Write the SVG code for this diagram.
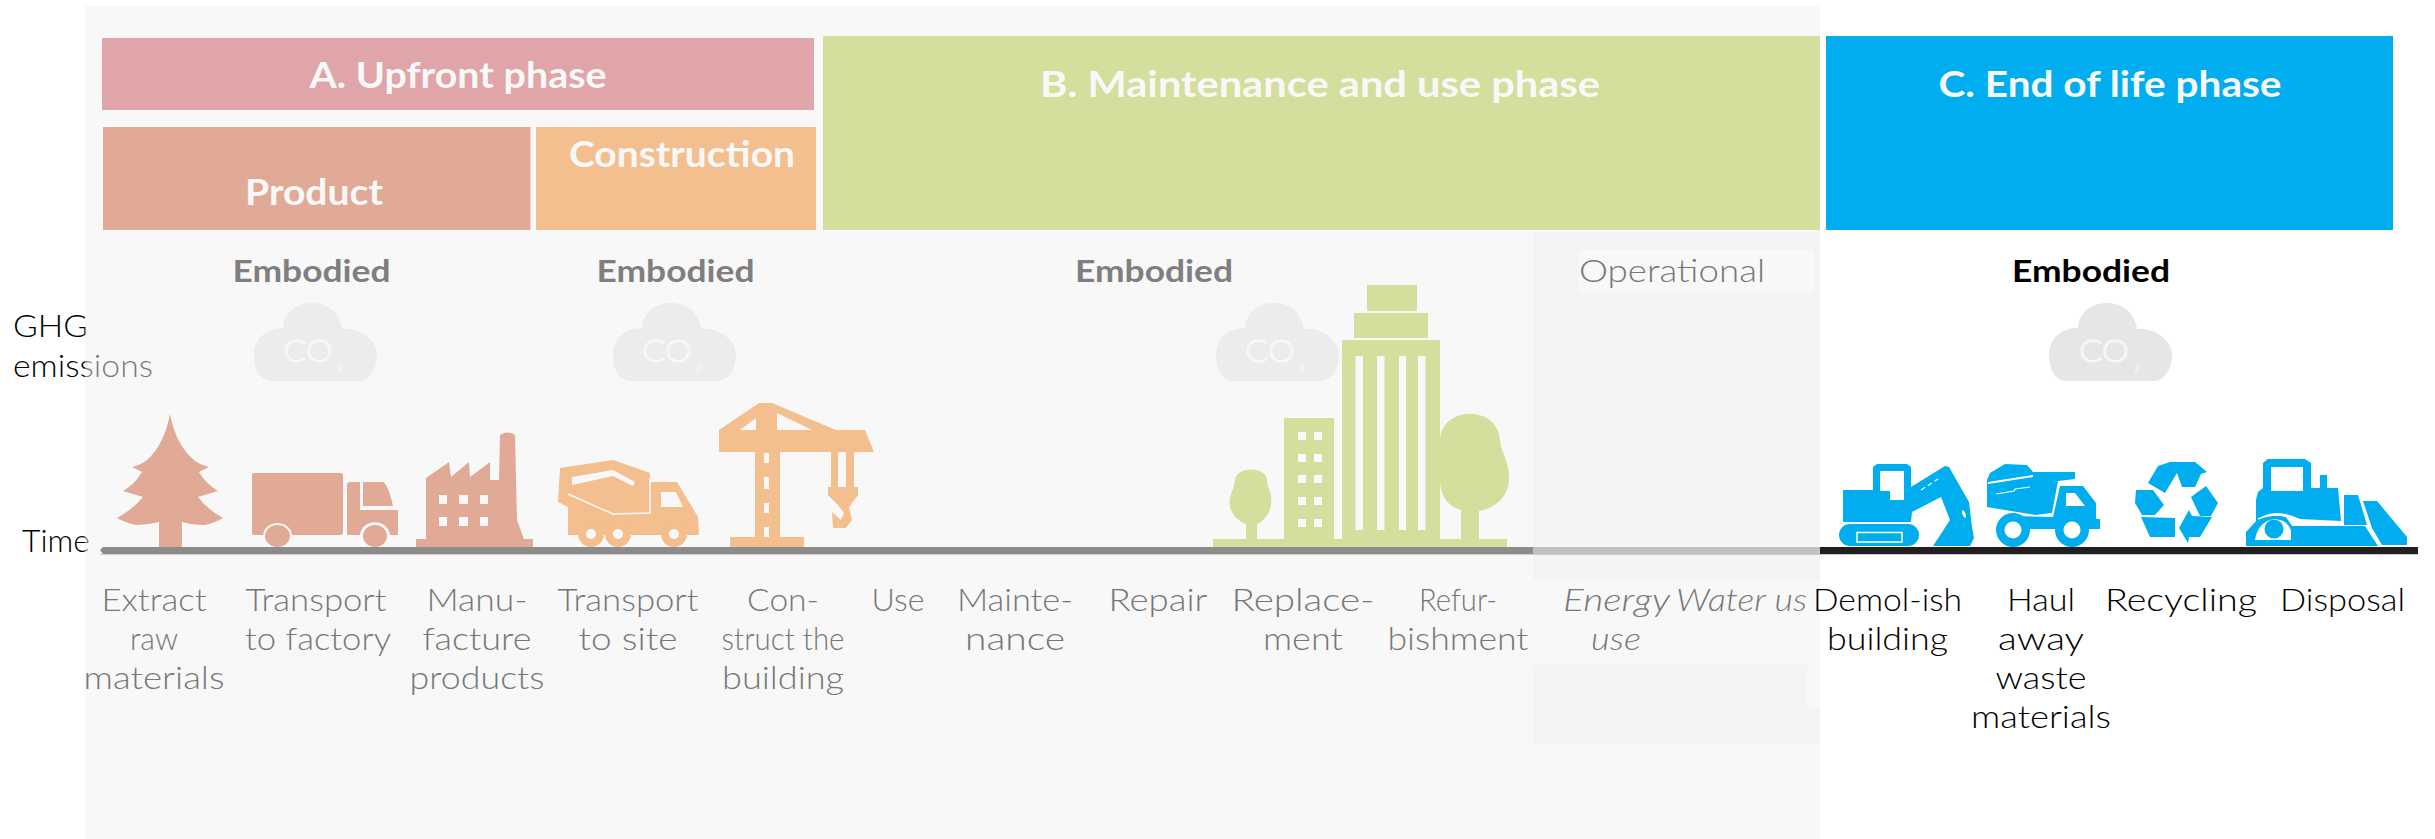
<svg xmlns="http://www.w3.org/2000/svg" width="2435" height="839" viewBox="0 0 2435 839">
<style>
text{font-family:Lato,"Open Sans","Liberation Sans",sans-serif}
.h{font-size:36px;font-weight:700;fill:#f8f8f8}
.e{font-size:31px;font-weight:700;fill:#7f7f7f}
.l{font-size:31px;font-weight:300;fill:#777}
.k{font-size:31px;font-weight:300;fill:#000}
.c{font-size:32px;font-weight:300;fill:none;stroke:#fafafa;stroke-width:1}
.s{font-size:9px;fill:#fafafa}
.p{fill:#e1aa96}.o{fill:#f3bf8e}.g{fill:#d3df9d}.b{fill:#00aeef}
.w{fill:#f8f8f8}.n{fill:#fff}
</style>
<defs>
<path id="cloud" d="M18 78C6 78 0 66 0 52C0 36 12 25 29 25C30 10 42 0 58 0C74 0 86 10 88 26C104 24 123 36 123 52C123 68 114 78 104 78Z"/>
</defs>
<g id="axis-labels">
<text class="k" x="13" y="337" textLength="75" lengthAdjust="spacingAndGlyphs">GHG</text>
<text class="k" x="13" y="377" textLength="140" lengthAdjust="spacingAndGlyphs">emissions</text>
<text class="k" x="22" y="552" textLength="68" lengthAdjust="spacingAndGlyphs">Time</text>
</g>
<rect id="panel" x="85" y="6" width="1735" height="833" fill="#f1f1f1" opacity=".5"/>
<rect x="1533" y="232" width="287" height="348" fill="#f4f4f4"/>
<rect x="1533" y="665" width="274" height="80" fill="#f4f4f4"/>
<rect x="1807" y="707" width="13" height="38" fill="#f4f4f4"/>
<rect x="1579" y="250" width="235" height="43" fill="#f8f8f8"/>

<g id="phase-a"><rect x="102" y="38" width="712" height="72" fill="#dfa5a9"/>
<text class="h" x="458" y="88" text-anchor="middle" textLength="297" lengthAdjust="spacingAndGlyphs">A. Upfront phase</text></g>
<g id="product"><rect x="103" y="127" width="427.500" height="103" class="p"/>
<text class="h" x="314" y="205" text-anchor="middle" textLength="138" lengthAdjust="spacingAndGlyphs">Product</text></g>
<g id="construction"><rect x="536" y="127" width="280" height="103" class="o"/>
<text class="h" x="682" y="167" text-anchor="middle" textLength="226" lengthAdjust="spacingAndGlyphs">Construction</text></g>
<g id="phase-b"><rect x="823" y="36" width="997" height="194" class="g"/>
<text class="h" x="1320" y="97" text-anchor="middle" textLength="560" lengthAdjust="spacingAndGlyphs">B. Maintenance and use phase</text></g>
<g id="phase-c"><rect x="1826" y="36" width="567" height="194" class="b"/>
<text class="h" x="2110" y="97" text-anchor="middle" textLength="343" lengthAdjust="spacingAndGlyphs">C. End of life phase</text></g>

<g id="embodied-1"><text class="e" x="311.500" y="282" text-anchor="middle" textLength="158" lengthAdjust="spacingAndGlyphs">Embodied</text></g>
<g id="embodied-2"><text class="e" x="675.500" y="282" text-anchor="middle" textLength="158" lengthAdjust="spacingAndGlyphs">Embodied</text></g>
<g id="embodied-3"><text class="e" x="1154" y="282" text-anchor="middle" textLength="158" lengthAdjust="spacingAndGlyphs">Embodied</text></g>
<g id="operational"><text class="l" x="1672" y="282" text-anchor="middle" textLength="186" lengthAdjust="spacingAndGlyphs" fill="#7f7f7f">Operational</text></g>
<g id="embodied-4"><text class="e" x="2091" y="282" text-anchor="middle" textLength="158" lengthAdjust="spacingAndGlyphs" style="fill:#000">Embodied</text></g>

<g id="cloud-1" fill="#ececec"><use href="#cloud" x="254" y="303"/><text class="c" x="283" y="362" textLength="50" lengthAdjust="spacingAndGlyphs">CO</text><text class="s" x="337" y="372">2</text></g>
<g id="cloud-2" fill="#ececec"><use href="#cloud" x="613" y="303"/><text class="c" x="642" y="362" textLength="50" lengthAdjust="spacingAndGlyphs">CO</text><text class="s" x="696" y="372">2</text></g>
<g id="cloud-3" fill="#ececec"><use href="#cloud" x="1216" y="303"/><text class="c" x="1245" y="362" textLength="50" lengthAdjust="spacingAndGlyphs">CO</text><text class="s" x="1299" y="372">2</text></g>
<g id="cloud-4" fill="#e6e6e6"><use href="#cloud" x="2049" y="303"/><text class="c" x="2079" y="362" textLength="50" lengthAdjust="spacingAndGlyphs">CO</text><text class="s" x="2134" y="372">2</text></g>

<g id="tree" class="p"><path d="M170 414Q176 445 194 460Q200 465 209 467L199 472Q206 484 218 491L198 497Q208 510 223 518Q212 524 204 525Q192 525 182 522V547H159V522Q148 525 137 525Q128 524 117 518Q132 510 143 497L123 491Q135 484 142 472L132 467Q141 465 147 460Q164 445 170 414Z"/></g>
<g id="truck" class="p">
<rect x="252" y="473" width="91" height="62" rx="2"/>
<path d="M347 485Q347 482 350 482H360V510H398V535H390C388 518 362 518 360 535H347Z"/>
<path d="M363 482H383Q388 484 393 506H363Z"/>
<ellipse cx="277.500" cy="536" rx="14.500" ry="13" class="w"/><ellipse cx="375" cy="536" rx="14.500" ry="13" class="w"/>
<ellipse cx="277.500" cy="536" rx="12.500" ry="11"/><ellipse cx="375" cy="536" rx="12" ry="11"/>
</g>
<g id="factory" class="p">
<path d="M416 547V539H426V478L449 462L451 477L469 462L470 477L490 462V480H499L500 435Q507 430 515 435L517 520L524 539H533V547Z"/>
<g class="w"><rect x="439" y="495" width="8" height="9"/><rect x="459" y="495" width="9" height="9"/><rect x="480" y="495" width="8" height="9"/><rect x="439" y="517" width="8" height="9"/><rect x="459" y="517" width="9" height="9"/><rect x="480" y="517" width="8" height="9"/></g>
</g>
<g id="mixer" class="o">
<path d="M560 468L613 460L650 473V482H677L698 517L699 535H568V507L558 502Z"/>
<path d="M572 477L613 470L635 482L633 486L613 476L572 485Z" class="w"/>
<path d="M568 494L613 514L650 513V478" fill="none" stroke="#f8f8f8" stroke-width="1.500"/>
<path d="M661 492H676L683 507H661Z" class="w"/>
<circle cx="591" cy="534" r="13"/><circle cx="618" cy="534" r="13"/><circle cx="674" cy="534" r="13"/>
<g class="w"><circle cx="591" cy="534" r="5"/><circle cx="618" cy="534" r="5"/><circle cx="674" cy="534" r="5"/></g>
</g>
<g id="crane" class="o">
<path fill-rule="evenodd" d="M719 452V430L759 403H772L836 430H865L874 452H780V537H804V547H730V537H755V452ZM740 430H756V418ZM777 413V430H812ZM764 453V463H769V453ZM764 477V489H769V477ZM764 503V513H769V503ZM764 527V537H769V527Z"/>
<path fill-rule="evenodd" d="M831 452H854V487H858V495L849 507L852 520L846 528H833L832 512L841 520L844 513L838 505L828 495V487H831ZM838 452V487H846V452Z"/>
</g>
<g id="city" class="g">
<rect x="1213" y="539" width="294" height="8"/>
<rect x="1367" y="285" width="50" height="26"/><rect x="1354" y="313" width="74" height="25"/>
<path fill-rule="evenodd" d="M1342 340H1440V540H1342ZM1355.500 356V530H1363V356ZM1377 356V530H1384.500V356ZM1399 356V530H1406V356ZM1418 356V530H1425.500V356Z"/>
<rect x="1284" y="418" width="50" height="122"/>
<g fill="#fafafa"><rect x="1298" y="432" width="8" height="8"/><rect x="1314" y="432" width="8" height="8"/><rect x="1298" y="454" width="8" height="8"/><rect x="1314" y="454" width="8" height="8"/><rect x="1298" y="475" width="8" height="8"/><rect x="1314" y="475" width="8" height="8"/><rect x="1298" y="497" width="8" height="8"/><rect x="1314" y="497" width="8" height="8"/><rect x="1298" y="519" width="8" height="8"/><rect x="1314" y="519" width="8" height="8"/></g>
<path d="M1246 540V524C1234 520 1228 508 1230 498C1232 490 1235 485 1235 480C1236 466 1266 466 1267 480C1267 487 1272 492 1271 500C1272 510 1266 520 1257 524V540Z"/>
<path d="M1461 540V510C1447 506 1440 495 1440 480V440C1442 405 1498 405 1500 440C1500 450 1509 460 1509 478C1509 497 1495 508 1479 511V540Z"/>
</g>

<g id="excavator" class="b">
<path fill-rule="evenodd" d="M1843 490H1873V467L1877 464H1907L1911 467V487L1945 466L1949 467L1969 502L1972 527L1974 538L1970 546H1933L1950 520L1941 497L1912 512L1911 522H1843ZM1880 471V491H1890V500H1904V471Z"/>
<rect x="1839" y="524" width="80" height="22" rx="11"/>
<rect x="1857" y="532.500" width="45" height="9.500" fill="none" stroke="#fff" stroke-width="1.500"/>
<path d="M1921 490L1938 479" fill="none" stroke="#fff" stroke-width="1.200" stroke-dasharray="5 3"/>
<ellipse cx="1964" cy="514" rx="1.500" ry="4" fill="#fff" transform="rotate(-20 1964 514)"/>
</g>
<g id="dump-truck" class="b">
<path d="M1987 480L1990 473L2005 464L2027 465L2033 472H2075V479L2058 481L2052 513L2035 515L1987 507Z"/>
<path d="M2060 486H2083L2096 503V519H2100V529H2000L2005 516L2053 517Z"/>
<path d="M2066 493H2075L2085 506H2066Z" fill="#fff"/>
<path d="M1988 483L2033 476" fill="none" stroke="#fff" stroke-width="2"/>
<path d="M1996 494L2014 491L2015 489L2030 487" fill="none" stroke="#fff" stroke-width="1.200"/>
<circle cx="2013" cy="530" r="17"/><circle cx="2072" cy="530" r="17"/>
<circle cx="2013" cy="530" r="8.500" fill="#fff"/><circle cx="2072" cy="530" r="8.500" fill="#fff"/>
</g>
<g id="recycling" class="b">
<path d="M2148 483L2158 466L2170 462H2195L2207 472L2201 474L2195 487L2182 487L2177 473L2165 493Z"/>
<path d="M2136 490H2153L2164 505L2155 515H2142L2135 503Z"/>
<path d="M2141 517L2175 518V537H2150Z"/>
<path d="M2206 486L2218 503L2211 516H2200L2191 497Z"/>
<path d="M2189 510L2192 516L2212 517L2200 537H2189L2188 543L2179 528Z"/>
</g>
<g id="bulldozer" class="b">
<path fill-rule="evenodd" d="M2263 488V463L2268 459H2305L2311 463V488H2320V475H2327V488H2338L2341 521L2300 519Q2285 512 2275 513Q2262 514 2256 522V500L2258 492ZM2271 467V491H2303V467Z"/>
<path fill-rule="evenodd" d="M2246 546V532L2258 519Q2275 512 2286 517L2292 526H2365L2378 546ZM2255 540Q2258 521 2275 519Q2287 520 2291 530V540Z"/>
<circle cx="2274" cy="529" r="9.500"/>
<path d="M2258 519Q2275 512 2288 517L2296 523H2341" fill="none" stroke="#fff" stroke-width="1.500"/>
<path d="M2344 495H2358L2367 525H2344Z"/>
<path d="M2363 501H2377L2407 537V545H2382L2372 528Z"/>
<path d="M2333 540H2378V546H2333Z" fill="#fff" opacity="0"/>
</g>

<g id="connectors">
<path d="M100 550L103 547H1533V554H103Z" fill="#8c8c8c"/>
<rect x="1533" y="547" width="287" height="7" fill="#c0c0c0"/>
<rect x="1820" y="547" width="598" height="7" fill="#231f20"/>
<rect x="100" y="554" width="2318" height="1" fill="#ccc"/>
</g>

<g id="labels" transform="translate(0 1)">
<g id="t1"><text class="l" x="154" y="610" text-anchor="middle" textLength="105" lengthAdjust="spacingAndGlyphs">Extract</text><text class="l" x="154" y="649" text-anchor="middle" textLength="48" lengthAdjust="spacingAndGlyphs">raw</text><text class="l" x="154" y="688" text-anchor="middle" textLength="141" lengthAdjust="spacingAndGlyphs">materials</text></g>
<g id="t2"><text class="l" x="316" y="610" text-anchor="middle" textLength="141" lengthAdjust="spacingAndGlyphs">Transport</text><text class="l" x="318" y="649" text-anchor="middle" textLength="146" lengthAdjust="spacingAndGlyphs">to factory</text></g>
<g id="t3"><text class="l" x="477" y="610" text-anchor="middle" textLength="101" lengthAdjust="spacingAndGlyphs">Manu-</text><text class="l" x="477" y="649" text-anchor="middle" textLength="109" lengthAdjust="spacingAndGlyphs">facture</text><text class="l" x="477" y="688" text-anchor="middle" textLength="135" lengthAdjust="spacingAndGlyphs">products</text></g>
<g id="t4"><text class="l" x="628" y="610" text-anchor="middle" textLength="141" lengthAdjust="spacingAndGlyphs">Transport</text><text class="l" x="628" y="649" text-anchor="middle" textLength="99" lengthAdjust="spacingAndGlyphs">to site</text></g>
<g id="t5"><text class="l" x="783" y="610" text-anchor="middle" textLength="72" lengthAdjust="spacingAndGlyphs">Con-</text><text class="l" x="783" y="649" text-anchor="middle" textLength="123" lengthAdjust="spacingAndGlyphs">struct the</text><text class="l" x="783" y="688" text-anchor="middle" textLength="122" lengthAdjust="spacingAndGlyphs">building</text></g>
<g id="t6"><text class="l" x="898" y="610" text-anchor="middle" textLength="53" lengthAdjust="spacingAndGlyphs">Use</text></g>
<g id="t7"><text class="l" x="1015" y="610" text-anchor="middle" textLength="116" lengthAdjust="spacingAndGlyphs">Mainte-</text><text class="l" x="1015" y="649" text-anchor="middle" textLength="100" lengthAdjust="spacingAndGlyphs">nance</text></g>
<g id="t8"><text class="l" x="1158" y="610" text-anchor="middle" textLength="99" lengthAdjust="spacingAndGlyphs">Repair</text></g>
<g id="t9"><text class="l" x="1303" y="610" text-anchor="middle" textLength="143" lengthAdjust="spacingAndGlyphs">Replace-</text><text class="l" x="1303" y="649" text-anchor="middle" textLength="80" lengthAdjust="spacingAndGlyphs">ment</text></g>
<g id="t10"><text class="l" x="1458" y="610" text-anchor="middle" textLength="78" lengthAdjust="spacingAndGlyphs">Refur-</text><text class="l" x="1458" y="649" text-anchor="middle" textLength="141" lengthAdjust="spacingAndGlyphs">bishment</text></g>
<g id="t11" font-style="italic"><text class="l" x="1563" y="610" textLength="107" lengthAdjust="spacingAndGlyphs">Energy</text><text class="l" x="1676" y="610" textLength="131" lengthAdjust="spacingAndGlyphs">Water us</text><text class="l" x="1591" y="649" textLength="50" lengthAdjust="spacingAndGlyphs">use</text></g>
<g id="t12"><text class="k" x="1813" y="610" textLength="149" lengthAdjust="spacingAndGlyphs">Demol-ish</text><text class="k" x="1827" y="649" textLength="121" lengthAdjust="spacingAndGlyphs">building</text></g>
<g id="t13"><text class="k" x="2041" y="610" text-anchor="middle" textLength="68" lengthAdjust="spacingAndGlyphs">Haul</text><text class="k" x="2041" y="649" text-anchor="middle" textLength="86" lengthAdjust="spacingAndGlyphs">away</text><text class="k" x="2041" y="688" text-anchor="middle" textLength="91" lengthAdjust="spacingAndGlyphs">waste</text><text class="k" x="2041" y="727" text-anchor="middle" textLength="140" lengthAdjust="spacingAndGlyphs">materials</text></g>
<g id="t14"><text class="k" x="2105" y="610" textLength="152" lengthAdjust="spacingAndGlyphs">Recycling</text></g>
<g id="t15"><text class="k" x="2280" y="610" textLength="125" lengthAdjust="spacingAndGlyphs">Disposal</text></g>
</g>
</svg>
